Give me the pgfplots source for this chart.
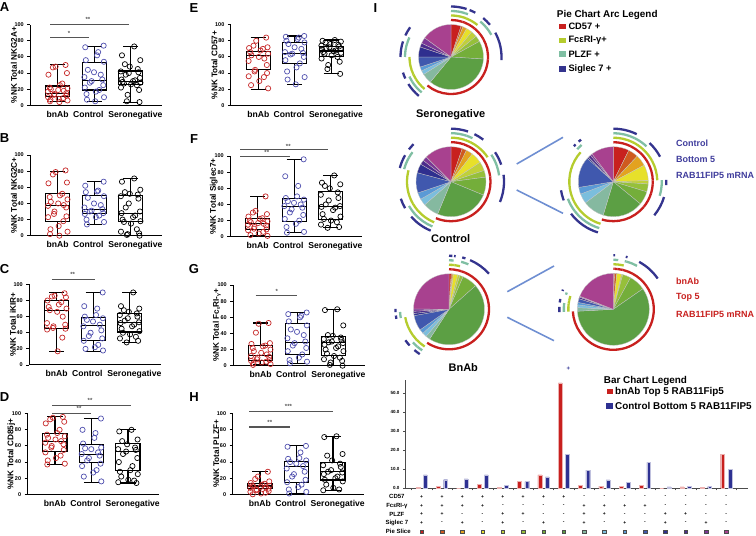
\documentclass[border=0pt]{standalone}
\usepackage{fontspec}
\setmainfont{Liberation Sans}
\usepackage{pgfplots}
\pgfplotsset{compat=1.18}
\usepgfplotslibrary{statistics}
\newcommand\fs[1]{\fontsize{#1}{#1}\selectfont}
\definecolor{cred}{HTML}{C62828}
\definecolor{cblue}{HTML}{4F4FAE}
\definecolor{sigc}{HTML}{555555}
\definecolor{pc1}{HTML}{C8201E}
\definecolor{pc2}{HTML}{CF5A1F}
\definecolor{pc3}{HTML}{E3A21F}
\definecolor{pc4}{HTML}{E7E02A}
\definecolor{pc5}{HTML}{C0D03A}
\definecolor{pc6}{HTML}{96C03A}
\definecolor{pc7}{HTML}{74AE3A}
\definecolor{pc8}{HTML}{5C9F44}
\definecolor{pc9}{HTML}{85B9A0}
\definecolor{pc10}{HTML}{7BBEDD}
\definecolor{pc11}{HTML}{5A9AD6}
\definecolor{pc12}{HTML}{4058AE}
\definecolor{pc13}{HTML}{2F2F8F}
\definecolor{pc14}{HTML}{4C2C8C}
\definecolor{pc15}{HTML}{7B3795}
\definecolor{pc16}{HTML}{A8418F}
\definecolor{arcred}{HTML}{C8201E}
\definecolor{arcyg}{HTML}{B5CC2E}
\definecolor{arcteal}{HTML}{80BFA3}
\definecolor{arcnavy}{HTML}{34348E}
\definecolor{barred}{HTML}{C8201E}
\definecolor{barblue}{HTML}{2E3192}
\definecolor{labblue}{HTML}{3F3C9C}
\definecolor{connc}{HTML}{6F8FD2}
\tikzset{
 sigl/.style={draw=sigc, line width=1.1pt},
 sigt/.style={font=\fs{6}\bfseries, text=sigc, inner sep=0pt},
 arcA/.style={draw=arcred, line width=2.3pt},
 arcB/.style={draw=arcyg, line width=2.3pt},
 arcC/.style={draw=arcteal, line width=2.3pt},
 arcD/.style={draw=arcnavy, line width=2.3pt},
 conn/.style={draw=connc, line width=1.6pt},
 sgn/.style={font=\fs{5}\bfseries, inner sep=0pt},
}
\pgfplotsset{bp/.style={
 anchor=south west, scale only axis, width=131.4pt, height=80.6pt,
 xmin=0.25, xmax=3.85, ymin=0, ymax=100,
 axis x line*=bottom, axis y line*=left,
 axis line style={line width=1pt, -},
 xtick={1,1.84,3.13}, xticklabels={bnAb,Control,Seronegative},
 xtick style={draw=none},
 ytick={0,20,40,60,80,100},
 tick align=outside, major tick length=3pt,
 ytick style={line width=0.9pt, black},
 yticklabel style={font=\fs{5.5}\bfseries},
 xticklabel style={font=\fs{8.6}\bfseries, yshift=1pt},
 ylabel style={font=\fs{8.2}\bfseries, at={(axis description cs:-0.125,0.5)}, anchor=center},
 /pgf/number format/assume math mode=true,
 clip=false,
}}
\newcommand\grp[8]{%
 \addplot[black, line width=1.1pt, boxplot prepared={draw direction=y, draw position=#1, median=#3, upper quartile=#4, lower quartile=#5, upper whisker=#6, lower whisker=#7, box extend=0.66, whisker extend=0.42}] coordinates {};
 \addplot[only marks, mark=o, mark size=2.6pt, line width=0.7pt, color=#2] table[row sep=\\, header=false, y index=0, x expr={#1+0.27*sin(139*\coordindex+53*#1)}] {#8};
}
\newcommand\piechart[4]{%
 \xdef\pietotal{0}%
 \foreach \v in {#4}{\pgfmathsetmacro\tmp{\pietotal+\v}\xdef\pietotal{\tmp}}%
 \xdef\piecum{0}%
 \pgfmathsetmacro\rA{#3+4.5}\pgfmathsetmacro\rB{#3+9}\pgfmathsetmacro\rC{#3+13.5}\pgfmathsetmacro\rD{#3+18}%
 \foreach \v [count=\i] in {#4}{%
  \pgfmathsetmacro\aA{90-(\piecum/\pietotal)*360}%
  \pgfmathsetmacro\tmp{\piecum+\v}\xdef\piecum{\tmp}%
  \pgfmathsetmacro\aB{90-(\piecum/\pietotal)*360}%
  \edef\temp{\noexpand\fill[pc\i, draw=gray!45, line width=0.3pt] (axis cs:#1,#2) -- ++(\aA:#3pt) arc[start angle=\aA, end angle=\aB, radius=#3pt] -- cycle;}\temp
  \ifnum\i<9\relax
   \edef\temp{\noexpand\draw[arcA] (axis cs:#1,#2) ++(\aA:\rA pt) arc[start angle=\aA, end angle=\aB, radius=\rA pt];}\temp
  \fi
  \pgfmathtruncatemacro\fz{mod(\i-1,8)}%
  \ifnum\fz<4\relax
   \edef\temp{\noexpand\draw[arcB] (axis cs:#1,#2) ++(\aA:\rB pt) arc[start angle=\aA, end angle=\aB, radius=\rB pt];}\temp
  \fi
  \pgfmathtruncatemacro\pz{mod(\i-1,4)}%
  \ifnum\pz<2\relax
   \edef\temp{\noexpand\draw[arcC] (axis cs:#1,#2) ++(\aA:\rC pt) arc[start angle=\aA, end angle=\aB, radius=\rC pt];}\temp
  \fi
  \ifodd\i\relax
   \edef\temp{\noexpand\draw[arcD] (axis cs:#1,#2) ++(\aA:\rD pt) arc[start angle=\aA, end angle=\aB, radius=\rD pt];}\temp
  \fi
 }%
}
\begin{document}
\begin{tikzpicture}
\useasboundingbox (0,0) rectangle (756pt,536pt);

% ---------- A ----------
\begin{axis}[bp, at={(30.3pt,430.7pt)}, ylabel={\%NK Total NKG2A+}]
\grp{1}{cred}{15}{24}{10.5}{50.5}{4.5}{50\\48\\47\\40\\38\\27\\25\\22\\21\\20\\19\\18\\17\\15\\14\\13\\12\\10\\9\\8\\7\\6\\5\\4\\}
\grp{2}{cblue}{31}{53}{19}{73.5}{5}{74\\72\\66\\62\\56\\54\\44\\41\\38\\35\\32\\30\\28\\25\\22\\19\\17\\14\\10\\7\\5\\}
\grp{3}{black}{29}{42.5}{26}{73}{4}{73\\62\\56\\51\\48\\45\\42\\41\\40\\38\\34\\32\\31\\30\\29\\28\\27\\26\\25\\22\\19\\13\\5\\4\\}
\draw[sigl] (axis cs:0.8,84) -- (axis cs:1.85,84);
\node[sigt] at (axis cs:1.31,89) {*};
\draw[sigl] (axis cs:0.8,100) -- (axis cs:2.95,100);
\node[sigt] at (axis cs:1.83,106) {**};
\end{axis}

% ---------- B ----------
\begin{axis}[bp, at={(30.3pt,300.3pt)}, ylabel={\%NK Total NKG2C+}]
\grp{1}{cred}{37.5}{52}{17.5}{80}{0}{81\\79\\76\\66\\65\\52\\50\\48\\45\\42\\40\\38\\37\\35\\30\\27\\24\\23\\18\\12\\8\\5\\2\\0\\}
\grp{2}{cblue}{32.5}{50}{27}{67}{14}{67\\62\\56\\55\\54\\49\\47\\40\\38\\35\\33\\31\\30\\28\\27\\25\\23\\20\\17\\14\\}
\grp{3}{black}{28}{50}{17.5}{71}{0}{71\\67\\57\\54\\52\\51\\49\\46\\40\\35\\30\\28\\25\\23\\20\\18\\17\\15\\8\\5\\3\\2\\1\\0\\}
\end{axis}

% ---------- C ----------
\begin{axis}[bp, at={(29.3pt,171pt)}, ylabel={\%NK Total iKIR+}]
\grp{1}{cred}{68}{80}{45.5}{90}{17}{89\\86\\85\\84\\80\\78\\75\\72\\70\\68\\66\\60\\52\\50\\48\\46\\45\\44\\34\\17\\}
\grp{2}{cblue}{49}{59}{30}{90}{17}{90\\73\\70\\62\\60\\58\\56\\54\\50\\48\\43\\40\\36\\33\\30\\25\\22\\20\\18\\}
\grp{3}{black}{52.5}{64}{41}{90}{28}{90\\73\\70\\68\\66\\64\\62\\60\\58\\55\\53\\52\\50\\48\\45\\42\\40\\38\\35\\33\\30\\28\\}
\draw[sigl] (axis cs:0.87,106.6) -- (axis cs:2.04,106.6);
\node[sigt] at (axis cs:1.44,112) {**};
\end{axis}

% ---------- D ----------
\begin{axis}[bp, at={(27.6pt,41.7pt)}, ylabel={\%NK Total CD85j+}]
\grp{1}{cred}{66}{75}{53}{96}{37}{96\\95\\93\\90\\88\\80\\76\\74\\72\\70\\68\\66\\64\\62\\60\\58\\55\\52\\48\\45\\42\\38\\37\\}
\grp{2}{cblue}{49.5}{62}{39}{94}{15}{94\\80\\76\\70\\63\\58\\57\\56\\52\\50\\48\\45\\42\\38\\35\\30\\27\\22\\16\\}
\grp{3}{black}{52.7}{63}{29}{80}{14}{80\\78\\68\\66\\62\\58\\56\\55\\53\\50\\45\\40\\35\\30\\28\\25\\22\\18\\17\\15\\14\\}
\draw[sigl] (axis cs:0.92,110.6) -- (axis cs:3.08,110.6);
\node[sigt] at (axis cs:1.96,117) {**};
\draw[sigl] (axis cs:0.92,100.5) -- (axis cs:2.0,100.5);
\node[sigt] at (axis cs:1.66,106) {**};
\end{axis}

% ---------- E ----------
\begin{axis}[bp, at={(230.9pt,430.7pt)}, ylabel={\%NK Total CD57+}]
\grp{1}{cred}{62}{67}{44}{84}{20}{84\\80\\74\\72\\71\\70\\68\\66\\64\\62\\60\\58\\55\\50\\44\\42\\40\\36\\35\\30\\25\\21\\}
\grp{2}{cblue}{64.5}{77.7}{52}{86}{26}{86\\85\\84\\82\\80\\78\\76\\72\\70\\66\\65\\64\\63\\60\\56\\52\\47\\42\\35\\32\\26\\}
\grp{3}{black}{67.4}{72.7}{60.3}{81}{39}{81\\80\\79\\78\\76\\75\\74\\73\\72\\71\\70\\69\\68\\67\\66\\65\\64\\62\\60\\58\\54\\50\\45\\39\\}
\end{axis}

% ---------- F ----------
\begin{axis}[bp, at={(230.3pt,299.3pt)}, ylabel={\%NK Total Siglec7+}]
\grp{1}{cred}{16.5}{22.7}{9}{50}{1}{50\\32\\30\\28\\25\\23\\22\\20\\19\\18\\17\\16\\15\\14\\12\\10\\9\\8\\6\\4\\2\\1\\}
\grp{2}{cblue}{38}{47.5}{19.4}{96}{5}{96\\75\\63\\50\\48\\46\\44\\42\\40\\38\\36\\34\\30\\27\\22\\20\\16\\12\\6\\5\\}
\grp{3}{black}{37}{56.6}{21.5}{76}{11}{76\\67\\65\\63\\60\\55\\52\\48\\45\\40\\38\\37\\36\\33\\28\\25\\22\\20\\18\\15\\12\\11\\}
\draw[sigl] (axis cs:0.52,100) -- (axis cs:1.88,100);
\node[sigt] at (axis cs:1.25,104.5) {**};
\draw[sigl] (axis cs:0.52,108) -- (axis cs:2.93,108);
\node[sigt] at (axis cs:1.84,112.5) {**};
\end{axis}

% ---------- G ----------
\begin{axis}[bp, at={(233.3pt,170.3pt)}, ylabel={\%NK Total Fc\raisebox{-1pt}{\fs{5}ε}RI-\raisebox{-1pt}{\fs{5}γ}+}]
\grp{1}{cred}{12.3}{25.4}{7}{53}{1}{53\\52\\41\\28\\27\\25\\24\\22\\20\\18\\16\\14\\12\\11\\10\\8\\7\\6\\5\\4\\3\\2\\1\\}
\grp{2}{cblue}{29}{52}{14.3}{66}{3}{66\\64\\62\\60\\55\\50\\45\\42\\38\\34\\30\\28\\25\\22\\18\\14\\10\\7\\5\\3\\}
\grp{3}{black}{29}{35.7}{12.3}{70}{0}{70\\69\\50\\38\\37\\35\\33\\32\\30\\29\\28\\26\\24\\22\\20\\18\\15\\12\\10\\8\\6\\4\\1\\0\\}
\draw[sigl] (axis cs:0.86,87) -- (axis cs:2.0,87);
\node[sigt] at (axis cs:1.44,92) {*};
\end{axis}

% ---------- H ----------
\begin{axis}[bp, at={(232.6pt,41.7pt)}, ylabel={\%NK Total PLZF+}]
\grp{1}{cred}{10.3}{13.6}{7.4}{28}{0}{28\\22\\19\\16\\14\\13\\12\\11\\10.5\\10\\9\\8.5\\8\\7\\6\\5\\4\\3\\2\\1\\0\\}
\grp{2}{cblue}{34}{41}{14.4}{60}{1}{60\\59\\52\\45\\44\\42\\40\\38\\35\\32\\28\\25\\22\\18\\15\\12\\9\\6\\3\\1\\}
\grp{3}{black}{28}{39}{17.7}{72}{5}{72\\71\\50\\48\\42\\38\\36\\34\\30\\28\\27\\25\\22\\20\\18\\16\\12\\8\\6\\5\\}
\draw[sigl] (axis cs:0.7,83.5) -- (axis cs:1.82,83.5);
\node[sigt] at (axis cs:1.27,89) {**};
\draw[sigl] (axis cs:0.7,103) -- (axis cs:2.99,103);
\node[sigt] at (axis cs:1.78,109) {***};
\end{axis}

% ---------- Bar chart ----------
\begin{axis}[at={(405pt,47.7pt)}, anchor=south west, scale only axis, width=343pt, height=108.3pt,
 xmin=0.18, xmax=17.07, ymin=0, ymax=57,
 axis x line*=bottom, axis y line*=left, axis line style={line width=0.5pt, black!70, -},
 ytick={0,10,20,30,40,50},
 yticklabel style={font=\fs{4.5}\bfseries, /pgf/number format/.cd, fixed, fixed zerofill, precision=1, assume math mode=true},
 xtick={0.5,1.5,...,16.5}, xticklabels={},
 tick align=outside, major tick length=2pt, tick style={black!70, line width=0.4pt},
 ybar, bar width=3.8pt, clip=false]
\addplot[fill=barred, draw=barred!35, line width=0.3pt, bar shift=-3.65pt] coordinates {(1,0.5)(2,1)(3,0)(4,2)(5,0.5)(6,3.5)(7,7)(8,55.5)(9,1.5)(10,1.2)(11,1)(12,1.6)(13,0)(14,0.7)(15,0.4)(16,18)};
\addplot[fill=barblue, draw=barblue!30, line width=0.3pt, bar shift=3.65pt] coordinates {(1,7)(2,4.5)(3,5)(4,7)(5,1.5)(6,3.5)(7,6)(8,18)(9,9.6)(10,4.4)(11,3)(12,13.7)(13,0.7)(14,1.2)(15,0.9)(16,10)};
\pgfplotsinvokeforeach{1,...,16}{
 \ifnum#1<9\relax \node[sgn] at (axis cs:#1,-4.4) {+};\else \node[sgn] at (axis cs:#1,-4.4) {-};\fi
 \pgfmathtruncatemacro\fzz{mod(#1-1,8)}
 \ifnum\fzz<4\relax \node[sgn] at (axis cs:#1,-9.2) {+};\else \node[sgn] at (axis cs:#1,-9.2) {-};\fi
 \pgfmathtruncatemacro\pzz{mod(#1-1,4)}
 \ifnum\pzz<2\relax \node[sgn] at (axis cs:#1,-13.7) {+};\else \node[sgn] at (axis cs:#1,-13.7) {-};\fi
 \ifodd#1\relax \node[sgn] at (axis cs:#1,-18.1) {+};\else \node[sgn] at (axis cs:#1,-18.1) {-};\fi
 \node[draw=black!70, fill=pc#1, minimum size=3.6pt, inner sep=0pt, line width=0.4pt] at (axis cs:#1,-22.8) {};
}
\node[font=\fs{6}\bfseries, inner sep=0pt] at (axis cs:-0.22,-4.4) {CD57};
\node[font=\fs{6}\bfseries, inner sep=0pt] at (axis cs:-0.22,-9.2) {FcεRI-γ};
\node[font=\fs{6}\bfseries, inner sep=0pt] at (axis cs:-0.22,-13.7) {PLZF};
\node[font=\fs{6}\bfseries, inner sep=0pt] at (axis cs:-0.22,-18.1) {Siglec 7};
\node[font=\fs{6}\bfseries, inner sep=0pt] at (axis cs:-0.15,-22.8) {Pie Slice};
\end{axis}

% ---------- Pies ----------
\begin{axis}[at={(0pt,0pt)}, anchor=south west, scale only axis, width=756pt, height=536pt,
 xmin=0, xmax=756, ymin=0, ymax=536, hide axis, clip=false]
\piechart{451}{479}{32.5}{5,1,2,3,3,3,9,35,5,2,2,5,5,2,3,15}
\piechart{451}{354.3}{35}{5,2,3,5,4,3,8,24,7,3,3,9,4,2,2,12}
\piechart{613.3}{354.3}{35}{7,4.5,5,7,1.5,3.5,6,18,9.6,4.4,3,13.7,0.7,1.2,0.9,10}
\piechart{449}{226.7}{35.5}{1,0.5,0.5,2,1,1.5,7,46,2,2,2,7,1,1,1,25}
\piechart{613.3}{226.7}{36}{0.5,1,0,2,0.5,3.5,7,55.5,1.5,1.2,1,1.6,0,0.7,0.4,18}
\draw[conn] (axis cs:516.7,372) -- (axis cs:563,398.7);
\draw[conn] (axis cs:516.7,346) -- (axis cs:563,322.7);
\draw[conn] (axis cs:507.3,244.3) -- (axis cs:554,270);
\draw[conn] (axis cs:507.3,218.7) -- (axis cs:554,195.3);
\end{axis}

% ---------- Text ----------
\node[font=\fs{13}\bfseries] at (4.5pt,529.3pt) {A};
\node[font=\fs{13}\bfseries] at (4.5pt,398pt) {B};
\node[font=\fs{13}\bfseries] at (4.5pt,267pt) {C};
\node[font=\fs{13}\bfseries] at (4.5pt,138.5pt) {D};
\node[font=\fs{13}\bfseries] at (194pt,528.3pt) {E};
\node[font=\fs{13}\bfseries] at (194pt,397pt) {F};
\node[font=\fs{13}\bfseries] at (194pt,267pt) {G};
\node[font=\fs{13}\bfseries] at (194pt,138.5pt) {H};
\node[font=\fs{13}\bfseries] at (375.5pt,527.7pt) {I};

\node[font=\fs{11}\bfseries] at (450.7pt,421pt) {Seronegative};
\node[font=\fs{11}\bfseries] at (450.7pt,297.7pt) {Control};
\node[font=\fs{11}\bfseries] at (463.3pt,168.3pt) {BnAb};

\node[font=\fs{9}\bfseries, text=labblue, anchor=west, inner sep=0pt] at (676pt,392.7pt) {Control};
\node[font=\fs{9}\bfseries, text=labblue, anchor=west, inner sep=0pt] at (676pt,376.7pt) {Bottom 5};
\node[font=\fs{9}\bfseries, text=labblue, anchor=west, inner sep=0pt] at (676pt,361pt) {RAB11FIP5 mRNA};
\node[font=\fs{9}\bfseries, text=arcred, anchor=west, inner sep=0pt] at (676pt,254.3pt) {bnAb};
\node[font=\fs{9}\bfseries, text=arcred, anchor=west, inner sep=0pt] at (676pt,238.3pt) {Top 5};
\node[font=\fs{9}\bfseries, text=arcred, anchor=west, inner sep=0pt] at (676pt,222pt) {RAB11FIP5 mRNA};

\node[font=\fs{9.9}\bfseries, anchor=west, inner sep=0pt] at (556.7pt,521pt) {Pie Chart Arc Legend};
\fill[arcred] (559pt,506.6pt) rectangle (565.6pt,511.9pt);
\fill[arcyg] (559pt,492.6pt) rectangle (565.6pt,497.9pt);
\fill[arcteal] (559pt,479.3pt) rectangle (565.6pt,484.6pt);
\fill[arcnavy] (559pt,464.3pt) rectangle (565.6pt,469.6pt);
\node[font=\fs{9.3}\bfseries, anchor=west, inner sep=0pt] at (568.3pt,509.3pt) {CD57 +};
\node[font=\fs{9.3}\bfseries, anchor=west, inner sep=0pt] at (568.3pt,495.3pt) {FcεRI-γ+};
\node[font=\fs{9.3}\bfseries, anchor=west, inner sep=0pt] at (568.3pt,482pt) {PLZF +};
\node[font=\fs{9.3}\bfseries, anchor=west, inner sep=0pt] at (568.3pt,467pt) {Siglec 7 +};

\node[font=\fs{9.9}\bfseries, anchor=west, inner sep=0pt] at (603.7pt,155pt) {Bar Chart Legend};
\fill[barred] (606.7pt,141.7pt) rectangle (613.3pt,147pt);
\fill[barblue] (606pt,127.4pt) rectangle (612.7pt,132.7pt);
\node[font=\fs{9.9}\bfseries, anchor=west, inner sep=0pt] at (615pt,144.3pt) {bnAb Top 5 RAB11Fip5};
\node[font=\fs{9.9}\bfseries, anchor=west, inner sep=0pt] at (615pt,130pt) {Control Bottom 5 RAB11FIP5};
\node[font=\fs{6}\bfseries, text=barblue] at (568.3pt,167pt) {+};
\end{tikzpicture}
\end{document}
